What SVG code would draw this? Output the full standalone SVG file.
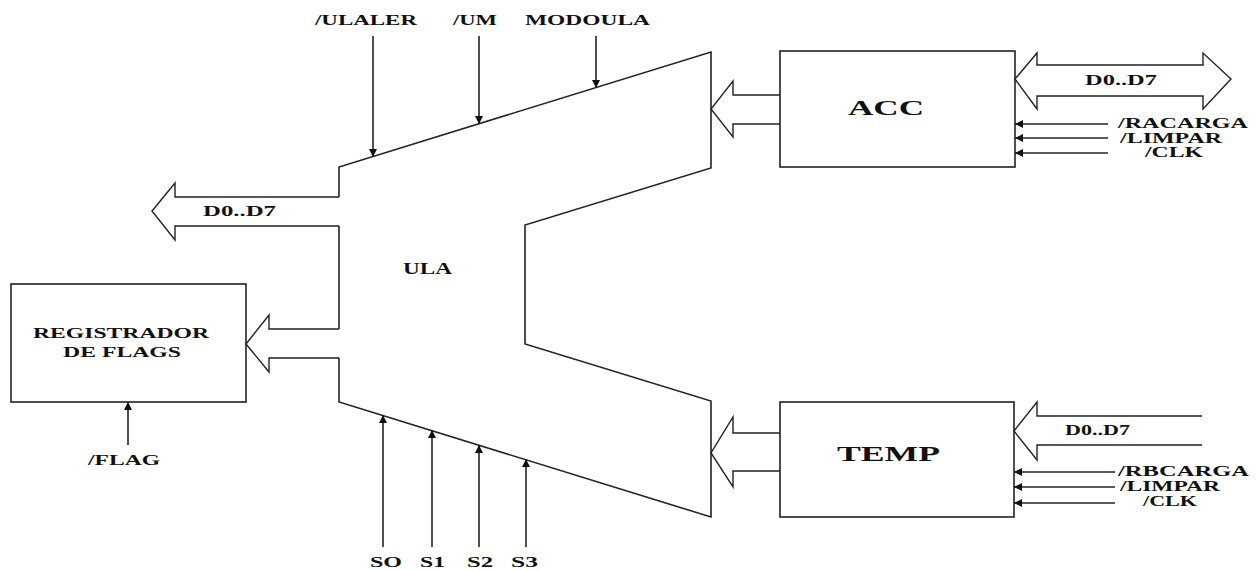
<svg xmlns="http://www.w3.org/2000/svg" width="1256" height="570" viewBox="0 0 1256 570">
<style>
.ln{fill:none;stroke:#222;stroke-width:1.6;stroke-linejoin:miter}
.bus{fill:none;stroke:#222;stroke-width:1.4;stroke-linejoin:miter}
.box{fill:#fff;stroke:#222;stroke-width:1.6}
.sig{fill:none;stroke:#222;stroke-width:1.6;marker-end:url(#ah)}
text{font-family:"Liberation Serif","Times New Roman",serif;font-weight:bold;fill:#111}
.s{font-size:15px}
.m{font-size:16px}
.b{font-size:20px}
</style>
<defs>
<marker id="ah" viewBox="0 0 10 10" refX="10" refY="5" markerWidth="5" markerHeight="5" orient="auto" markerUnits="strokeWidth">
<path d="M0,0 L10,5 L0,10 Z" fill="#111"/>
</marker>
</defs>
<rect width="1256" height="570" fill="#fff"/>

<g id="ula">
<path class="ln" d="M339,197 L339,167 L711,52 L711,168 L525,225 L525,344 L711,401 L711,517 L339,402 L339,358 M339,329 L339,226"/>
<text class="m" x="403" y="274" textLength="49" lengthAdjust="spacingAndGlyphs">ULA</text>
</g>

<g id="acc">
<rect class="box" x="780" y="51" width="235" height="116"/>
<text class="b" x="848" y="115" textLength="76" lengthAdjust="spacingAndGlyphs">ACC</text>
</g>

<g id="temp">
<rect class="box" x="780" y="402" width="234" height="115"/>
<text class="b" x="837" y="461" font-size="21" textLength="103" lengthAdjust="spacingAndGlyphs">TEMP</text>
</g>

<g id="flags">
<rect class="box" x="11" y="284" width="235" height="118"/>
<text class="s" x="33" y="338" textLength="176" lengthAdjust="spacingAndGlyphs">REGISTRADOR</text>
<text class="s" x="63" y="357" textLength="118" lengthAdjust="spacingAndGlyphs">DE FLAGS</text>
</g>

<g id="connectors">
<!-- buses -->
<path class="bus" d="M339,197 L175,197 L175,183 L152,211 L175,240 L175,226 L339,226"/>
<path class="bus" d="M339,329 L269,329 L269,315 L246,344 L269,372 L269,358 L339,358"/>
<path class="bus" d="M780,95 L733,95 L733,81 L711,109 L733,137 L733,124 L780,124"/>
<path class="bus" d="M780,433 L733,433 L733,417 L711,453 L733,487 L733,471 L780,471"/>
<path class="bus" d="M1037,65 L1037,53 L1015,79 L1037,109 L1037,96 L1203,96 L1203,109 L1231,79 L1203,53 L1203,65 Z"/>
<path class="bus" d="M1202,416 L1037,416 L1037,402 L1014,431 L1037,460 L1037,445 L1202,445"/>
<!-- control signals top -->
<line class="sig" x1="373" y1="36" x2="373" y2="157"/>
<line class="sig" x1="479" y1="36" x2="479" y2="124"/>
<line class="sig" x1="596" y1="36" x2="596" y2="88"/>
<!-- control signals bottom -->
<line class="sig" x1="383" y1="547" x2="383" y2="415"/>
<line class="sig" x1="432" y1="547" x2="432" y2="430"/>
<line class="sig" x1="479" y1="547" x2="479" y2="445"/>
<line class="sig" x1="526" y1="547" x2="526" y2="459"/>
<!-- flag -->
<line class="sig" x1="128" y1="445" x2="128" y2="402"/>
<!-- acc controls -->
<line class="sig" x1="1108" y1="124" x2="1015" y2="124"/>
<line class="sig" x1="1108" y1="138" x2="1015" y2="138"/>
<line class="sig" x1="1108" y1="153" x2="1015" y2="153"/>
<!-- temp controls -->
<line class="sig" x1="1115" y1="472" x2="1014" y2="472"/>
<line class="sig" x1="1115" y1="487" x2="1014" y2="487"/>
<line class="sig" x1="1115" y1="503" x2="1014" y2="503"/>
</g>

<g id="labels">
<text class="s" x="315" y="25" textLength="102" lengthAdjust="spacingAndGlyphs">/ULALER</text>
<text class="s" x="453" y="25" textLength="44" lengthAdjust="spacingAndGlyphs">/UM</text>
<text class="s" x="525" y="25" textLength="125" lengthAdjust="spacingAndGlyphs">MODOULA</text>
<text class="s" x="203" y="216" textLength="73" lengthAdjust="spacingAndGlyphs">D0..D7</text>
<text class="s" x="1085" y="85" textLength="72" lengthAdjust="spacingAndGlyphs">D0..D7</text>
<text class="s" x="1065" y="435" textLength="65" lengthAdjust="spacingAndGlyphs">D0..D7</text>
<text class="s" x="1118" y="128" textLength="130" lengthAdjust="spacingAndGlyphs">/RACARGA</text>
<text class="s" x="1120" y="143" textLength="102" lengthAdjust="spacingAndGlyphs">/LIMPAR</text>
<text class="s" x="1145" y="157" textLength="58" lengthAdjust="spacingAndGlyphs">/CLK</text>
<text class="s" x="1118" y="476" textLength="131" lengthAdjust="spacingAndGlyphs">/RBCARGA</text>
<text class="s" x="1120" y="491" textLength="100" lengthAdjust="spacingAndGlyphs">/LIMPAR</text>
<text class="s" x="1143" y="506" textLength="54" lengthAdjust="spacingAndGlyphs">/CLK</text>
<text class="s" x="88" y="465" textLength="72" lengthAdjust="spacingAndGlyphs">/FLAG</text>
<text class="s" x="370" y="567" textLength="32" lengthAdjust="spacingAndGlyphs">SO</text>
<text class="s" x="420" y="567" textLength="25" lengthAdjust="spacingAndGlyphs">S1</text>
<text class="s" x="467" y="567" textLength="26" lengthAdjust="spacingAndGlyphs">S2</text>
<text class="s" x="511" y="567" textLength="27" lengthAdjust="spacingAndGlyphs">S3</text>
</g>
</svg>
